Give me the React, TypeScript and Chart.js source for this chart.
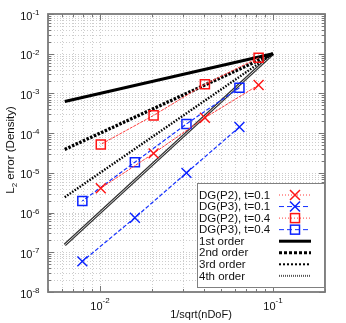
import React, { useEffect, useRef } from 'react';
import { Chart, registerables } from 'chart.js';

Chart.register(...registerables);

// ---- data ----
const xP2 = [0.0826, 0.0404, 0.0204, 0.0101];
const errP2t01 = [1.63e-3, 2.44e-4, 3.1e-5, 4.1e-6];
const errP2t04 = [7.9e-3, 1.7e-3, 2.8e-4, 5.2e-5];
const xP3 = [0.064, 0.0316, 0.0159, 0.0079];
const errP3t01 = [1.43e-4, 1.0e-5, 7.4e-7, 5.9e-8];
const errP3t04 = [1.39e-3, 1.7e-4, 1.86e-5, 1.95e-6];
const xRef = [0.00625, 0.1];
const order1 = [6.25e-4, 1e-2];
const order2 = [3.9e-5, 1e-2];
const order3 = [2.44e-6, 1e-2];
const order4 = [1.53e-7, 1e-2];

const xTickExps = [-2, -1];
const yTickExps = [-8, -7, -6, -5, -4, -3, -2, -1];
const legendLabels = [
  'DG(P2), t=0.1',
  'DG(P3), t=0.1',
  'DG(P2), t=0.4',
  'DG(P3), t=0.4',
  '1st order',
  '2nd order',
  '3rd order',
  '4th order',
];
const xTitle = '1/sqrt(nDoF)';
const yTitleMain = 'L';
const yTitleSub = '2';
const yTitleRest = ' error (Density)';

const FONT = '"Liberation Sans", Arial, Helvetica, sans-serif';
const RED_M = '#ff1414';
const RED_L = '#ff3c3c';
const BLUE_M = '#0a22ff';
const BLUE_L = '#1430ff';
const RED_DASH = [3, 1];
const BLUE_DASH = [4, 2];

const pts = (xs: number[], ys: number[]) => xs.map((x, i) => ({ x, y: ys[i] }));

function logValues(min: number, max: number) {
  const out: { v: number; major: boolean }[] = [];
  const e0 = Math.floor(Math.log10(min));
  const e1 = Math.ceil(Math.log10(max));
  for (let e = e0; e <= e1; e++) {
    for (let m = 1; m <= 9; m++) {
      const v = m * Math.pow(10, e);
      if (v >= min * (1 - 1e-9) && v <= max * (1 + 1e-9)) out.push({ v, major: m === 1 });
    }
  }
  return out;
}

const gnuplotDecor = {
  id: 'gnuplotDecor',
  beforeDatasetsDraw(chart: any) {
    const { ctx, chartArea: a, scales } = chart;
    const xs = scales.x;
    const ys = scales.y;
    const xv = logValues(xs.min, xs.max);
    const yv = logValues(ys.min, ys.max);
    ctx.save();
    // grid
    ctx.strokeStyle = '#cdcdcd';
    ctx.lineWidth = 1;
    ctx.setLineDash([1, 2]);
    for (const t of xv) {
      const px = Math.round(xs.getPixelForValue(t.v)) + 0.5;
      if (px <= a.left + 1 || px >= a.right - 1) continue;
      ctx.beginPath();
      ctx.moveTo(px, a.top);
      ctx.lineTo(px, a.bottom);
      ctx.stroke();
    }
    for (const t of yv) {
      const py = Math.round(ys.getPixelForValue(t.v)) + 0.5;
      if (py <= a.top + 1 || py >= a.bottom - 1) continue;
      ctx.beginPath();
      ctx.moveTo(a.left, py);
      ctx.lineTo(a.right, py);
      ctx.stroke();
    }
    ctx.setLineDash([]);
    // ticks (mirrored, inward)
    ctx.strokeStyle = '#777';
    ctx.lineWidth = 1;
    for (const t of xv) {
      const px = Math.round(xs.getPixelForValue(t.v)) + 0.5;
      const len = t.major ? 6 : 3;
      ctx.beginPath();
      ctx.moveTo(px, a.bottom);
      ctx.lineTo(px, a.bottom - len);
      ctx.moveTo(px, a.top);
      ctx.lineTo(px, a.top + len);
      ctx.stroke();
    }
    for (const t of yv) {
      const py = Math.round(ys.getPixelForValue(t.v)) + 0.5;
      const len = t.major ? 6 : 3;
      ctx.beginPath();
      ctx.moveTo(a.left, py);
      ctx.lineTo(a.left + len, py);
      ctx.moveTo(a.right, py);
      ctx.lineTo(a.right - len, py);
      ctx.stroke();
    }
    // frame
    ctx.strokeStyle = '#7a7a7a';
    ctx.lineWidth = 1.8;
    ctx.strokeRect(a.left, a.top, a.right - a.left, a.bottom - a.top);
    ctx.restore();
  },
  afterDatasetsDraw(chart: any) {
    const { ctx, chartArea: a, scales } = chart;
    const xs = scales.x;
    const ys = scales.y;
    ctx.save();
    ctx.fillStyle = '#111';
    const bigF = `11px ${FONT}`;
    const supF = `8px ${FONT}`;
    ctx.textBaseline = 'alphabetic';
    ctx.textAlign = 'left';
    // x tick labels
    for (const e of xTickExps) {
      const px = xs.getPixelForValue(Math.pow(10, e));
      ctx.font = bigF;
      const w1 = ctx.measureText('10').width;
      ctx.font = supF;
      const sup = String(e);
      const w2 = ctx.measureText(sup).width;
      const x0 = px - (w1 + w2) / 2;
      ctx.font = bigF;
      ctx.fillText('10', x0, a.bottom + 17.5);
      ctx.font = supF;
      ctx.fillText(sup, x0 + w1, a.bottom + 11);
    }
    // y tick labels
    for (const e of yTickExps) {
      const py = ys.getPixelForValue(Math.pow(10, e));
      ctx.font = supF;
      const sup = String(e);
      const w2 = ctx.measureText(sup).width;
      ctx.font = bigF;
      const w1 = ctx.measureText('10').width;
      const right = a.left - 8.5;
      ctx.fillText('10', right - w2 - w1, py + 5.5);
      ctx.font = supF;
      ctx.fillText(sup, right - w2, py + 1);
    }
    // x title
    ctx.font = `11px ${FONT}`;
    ctx.textAlign = 'center';
    ctx.fillText(xTitle, 201, 318);
    // y title (rotated, with subscript)
    ctx.save();
    ctx.translate(13.5, (a.top + a.bottom) / 2 - 3);
    ctx.rotate(-Math.PI / 2);
    ctx.textAlign = 'left';
    const tF = `11.5px ${FONT}`;
    const sF = `8px ${FONT}`;
    ctx.font = tF;
    const wa = ctx.measureText(yTitleMain).width;
    const wc = ctx.measureText(yTitleRest).width;
    ctx.font = sF;
    const wb = ctx.measureText(yTitleSub).width;
    let tx = -(wa + wb + wc) / 2;
    ctx.font = tF;
    ctx.fillText(yTitleMain, tx, 0);
    tx += wa;
    ctx.font = sF;
    ctx.fillText(yTitleSub, tx, 3);
    tx += wb;
    ctx.font = tF;
    ctx.fillText(yTitleRest, tx, 0);
    ctx.restore();

    // legend
    const lx = 197.5, ly = 183.5, lw = 127, lh = 104;
    ctx.fillStyle = '#fff';
    ctx.fillRect(lx, ly, lw, lh);
    ctx.strokeStyle = '#808080';
    ctx.lineWidth = 1;
    ctx.strokeRect(lx, ly, lw, lh);
    const sx0 = 279, sx1 = 311, sm = 295;
    legendLabels.forEach((lab, i) => {
      const y = 195 + i * 11.55;
      ctx.fillStyle = '#111';
      ctx.font = `11.5px ${FONT}`;
      ctx.textAlign = 'left';
      ctx.textBaseline = 'middle';
      ctx.fillText(lab, 199, y + 0.5);
      const line = (color: string, w: number, dash: number[]) => {
        ctx.strokeStyle = color;
        ctx.lineWidth = w;
        ctx.setLineDash(dash);
        ctx.beginPath();
        ctx.moveTo(sx0, y);
        ctx.lineTo(sx1, y);
        ctx.stroke();
        ctx.setLineDash([]);
      };
      const cross = (color: string) => {
        ctx.strokeStyle = color;
        ctx.lineWidth = 1.5;
        ctx.beginPath();
        ctx.moveTo(sm - 5, y - 5);
        ctx.lineTo(sm + 5, y + 5);
        ctx.moveTo(sm + 5, y - 5);
        ctx.lineTo(sm - 5, y + 5);
        ctx.stroke();
      };
      const square = (color: string) => {
        ctx.strokeStyle = color;
        ctx.lineWidth = 1.5;
        ctx.strokeRect(sm - 4.5, y - 4.5, 9, 9);
      };
      if (i === 0) { line(RED_L, 1, [1, 2]); cross(RED_M); }
      if (i === 1) { line(BLUE_L, 1, [5, 3]); cross(BLUE_M); }
      if (i === 2) { line(RED_L, 1, [1, 2]); square(RED_M); }
      if (i === 3) { line(BLUE_L, 1, [5, 3]); square(BLUE_M); }
      if (i === 4) line('#000', 3, []);
      if (i === 5) line('#000', 3, [3, 2]);
      if (i === 6) line('#000', 2, [2, 2]);
      if (i === 7) line('#555', 2, [1, 1]);
    });
    ctx.restore();
  },
};

export default function App() {
  const ref = useRef<HTMLCanvasElement | null>(null);
  useEffect(() => {
    if (!ref.current) return;
    const base = { tension: 0, fill: false, pointRadius: 0, pointHoverRadius: 0 };
    const chart = new Chart(ref.current, {
      type: 'line',
      data: {
        datasets: [
          {
            ...base, label: legendLabels[0], data: pts(xP2, errP2t01),
            borderColor: RED_L, borderWidth: 1, borderDash: RED_DASH,
            pointStyle: 'crossRot', pointRadius: 7, pointBorderColor: RED_M, pointBorderWidth: 1.4,
            pointBackgroundColor: 'rgba(0,0,0,0)',
          },
          {
            ...base, label: legendLabels[1], data: pts(xP3, errP3t01),
            borderColor: BLUE_L, borderWidth: 1.2, borderDash: BLUE_DASH,
            pointStyle: 'crossRot', pointRadius: 7, pointBorderColor: BLUE_M, pointBorderWidth: 1.4,
            pointBackgroundColor: 'rgba(0,0,0,0)',
          },
          {
            ...base, label: legendLabels[2], data: pts(xP2, errP2t04),
            borderColor: RED_L, borderWidth: 1, borderDash: RED_DASH,
            pointStyle: 'rect', pointRadius: 6.4, pointBorderColor: RED_M, pointBorderWidth: 1.5,
            pointBackgroundColor: 'rgba(0,0,0,0)',
          },
          {
            ...base, label: legendLabels[3], data: pts(xP3, errP3t04),
            borderColor: BLUE_L, borderWidth: 1.2, borderDash: BLUE_DASH,
            pointStyle: 'rect', pointRadius: 6.4, pointBorderColor: BLUE_M, pointBorderWidth: 1.5,
            pointBackgroundColor: 'rgba(0,0,0,0)',
          },
          { ...base, label: legendLabels[4], data: pts(xRef, order1), borderColor: '#000', borderWidth: 3 },
          { ...base, label: legendLabels[5], data: pts(xRef, order2), borderColor: '#000', borderWidth: 3.3, borderDash: [2.5, 1.5] },
          { ...base, label: legendLabels[6], data: pts(xRef, order3), borderColor: '#000', borderWidth: 2.4, borderDash: [1.5, 1.5] },
          { ...base, label: legendLabels[7] + ' inner', data: pts(xRef, order4), borderColor: '#d8d8d8', borderWidth: 1 },
          { ...base, label: legendLabels[7], data: pts(xRef, order4), borderColor: '#333', borderWidth: 3 },
        ],
      },
      options: {
        animation: false,
        responsive: false,
        layout: { padding: { left: 48, top: 14, right: 21, bottom: 31 } },
        plugins: { legend: { display: false }, tooltip: { enabled: false } },
        scales: {
          x: { type: 'logarithmic', min: 0.005, max: 0.2, display: false },
          y: { type: 'logarithmic', min: 1e-8, max: 0.1, display: false },
        },
      },
      plugins: [gnuplotDecor],
    } as any);
    return () => chart.destroy();
  }, []);
  return (
    <div style={{ position: 'absolute', left: 0, top: 0, width: 346, height: 323, background: '#fff' }}>
      <canvas ref={ref} width={346} height={323} style={{ display: 'block' }} />
    </div>
  );
}
